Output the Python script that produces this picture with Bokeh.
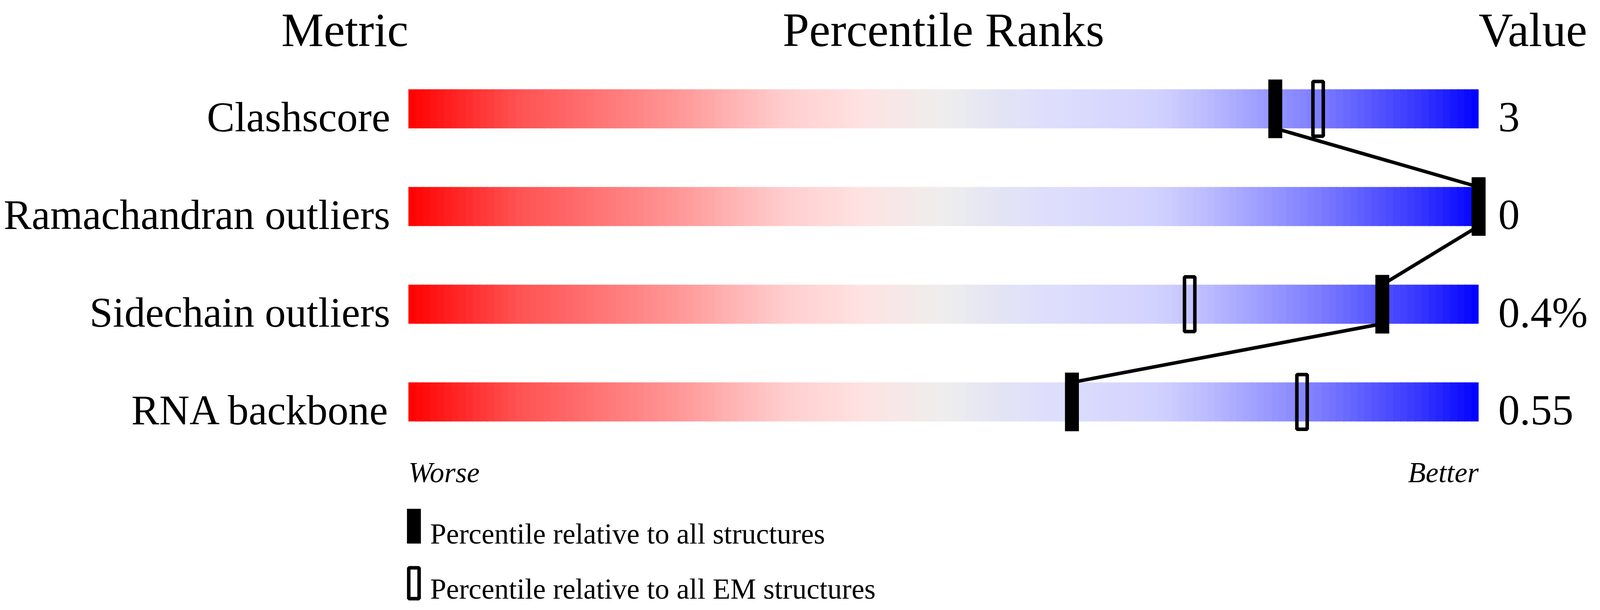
import numpy as np
from bokeh.plotting import figure
from bokeh.models import Range1d
from bokeh.core.properties import value
from bokeh.embed import file_html
from bokeh.resources import INLINE

# data
metrics = ["Clashscore", "Ramachandran outliers", "Sidechain outliers", "RNA backbone"]
metric_values = ["3", "0", "0.4%", "0.55"]
pct_all = [81, 100, 91, 62]       # percentile relative to all structures
pct_em = [85, 100, 73, 83.5]      # percentile relative to all EM structures
legend_labels = ["Percentile relative to all structures",
                 "Percentile relative to all EM structures"]

# slider colour stops (percentile, r, g, b)
grad_stops = [(0, 255, 0, 0), (10, 255, 80, 80), (25, 255, 150, 150),
              (35, 255, 205, 205), (42, 255, 225, 225), (50, 238, 238, 238),
              (55, 228, 228, 245), (60, 222, 222, 252), (70, 210, 210, 255),
              (75, 185, 185, 255), (85, 125, 125, 255), (95, 50, 50, 255),
              (100, 0, 0, 255)]

FONT = value("Liberation Serif")
VIS_W = 4096                  # width that actually gets photographed
K = VIS_W / 4485.0            # horizontal squeeze against the reference
W, H = VIS_W - 16, 1545
PX = 30.0      # reference pixels per percentile
ROW = 250.0    # pixels per row
X0 = 1153.0    # reference x of percentile 0
Y0 = 286.0     # y of first row centre
LIFT = 0.28    # svg text sits this many em below the asked baseline


def base_y(ref_y, size):
    # data y for a text baseline wanted at ref_y (pixels)
    return (ref_y - LIFT * size - Y0) / ROW


rows = np.arange(len(metrics))

p = figure(width=W, height=H,
           x_range=Range1d((8 / K - X0) / PX, ((8 + W) / K - X0) / PX),
           y_range=Range1d((8 + H - Y0) / ROW, (8 - Y0) / ROW),
           x_axis_location=None, y_axis_location=None,
           output_backend="svg", toolbar_location=None, min_border=0)
p.grid.visible = False
p.outline_line_color = None
p.background_fill_color = "white"
p.border_fill_color = "white"

# gradient bars
n = 150
edges = np.linspace(0, 100, n + 1)
mids = (edges[:-1] + edges[1:]) / 2
sp = [s[0] for s in grad_stops]
r = np.interp(mids, sp, [s[1] for s in grad_stops])
g = np.interp(mids, sp, [s[2] for s in grad_stops])
b = np.interp(mids, sp, [s[3] for s in grad_stops])
colors = ["#%02x%02x%02x" % (int(round(a)), int(round(c)), int(round(d))) for a, c, d in zip(r, g, b)]
right = np.minimum(edges[1:] + 0.08, 100)
for i in rows:
    p.quad(left=edges[:-1], right=right, bottom=i - 0.2, top=i + 0.2,
           fill_color=colors, line_color=None)

# connecting line between filled markers
p.segment(x0=pct_all[:-1], y0=rows[:-1] + 0.2, x1=pct_all[1:], y1=rows[1:] - 0.2,
          line_color="black", line_width=9)

# markers
p.rect(x=pct_em, y=rows, width=29 / PX, height=140 / ROW,
       fill_color=None, line_color="black", line_width=9)
p.rect(x=pct_all, y=rows, width=39 / PX, height=150 / ROW,
       fill_color="black", line_color=None)

# metric names and values
p.text(x=-51 / PX, y=rows + base_y(Y0 + 51, 107), text=metrics, text_font=FONT,
       text_font_size="107px", text_align="right", text_baseline="alphabetic", text_color="black")
p.text(x=100 + 55 / PX, y=rows + base_y(Y0 + 52, 110), text=metric_values, text_font=FONT,
       text_font_size="110px", text_align="left", text_baseline="alphabetic", text_color="black")

# column titles
ty = base_y(118, 122)
p.text(x=[0], y=[ty], text=["Metric"], text_font=FONT, text_font_size="122px",
       text_align="right", text_baseline="alphabetic")
p.text(x=[50], y=[ty], text=["Percentile Ranks"], text_font=FONT, text_font_size="122px",
       text_align="center", text_baseline="alphabetic")
p.text(x=[100], y=[ty], text=["Value"], text_font=FONT, text_font_size="122px",
       text_align="left", text_baseline="alphabetic")

# worse / better
wy = base_y(1237, 74)
p.text(x=[0], y=[wy], text=["Worse"], text_font=FONT, text_font_size="74px",
       text_font_style="italic", text_align="left", text_baseline="alphabetic")
p.text(x=[100], y=[wy], text=["Better"], text_font=FONT, text_font_size="74px",
       text_font_style="italic", text_align="right", text_baseline="alphabetic")

# legend
lx = (1168.5 - X0) / PX
p.rect(x=[lx], y=[(1354 - Y0) / ROW], width=39 / PX, height=89 / ROW,
       fill_color="black", line_color=None)
p.rect(x=[lx], y=[(1500 - Y0) / ROW], width=29 / PX, height=79 / ROW,
       fill_color=None, line_color="black", line_width=9)
p.text(x=[(1214 - X0) / PX] * 2, y=[base_y(1394, 74), base_y(1535, 74)],
       text=legend_labels, text_font=FONT, text_font_size="74px",
       text_align="left", text_baseline="alphabetic")

open("out.html", "w").write(file_html(p, INLINE))
